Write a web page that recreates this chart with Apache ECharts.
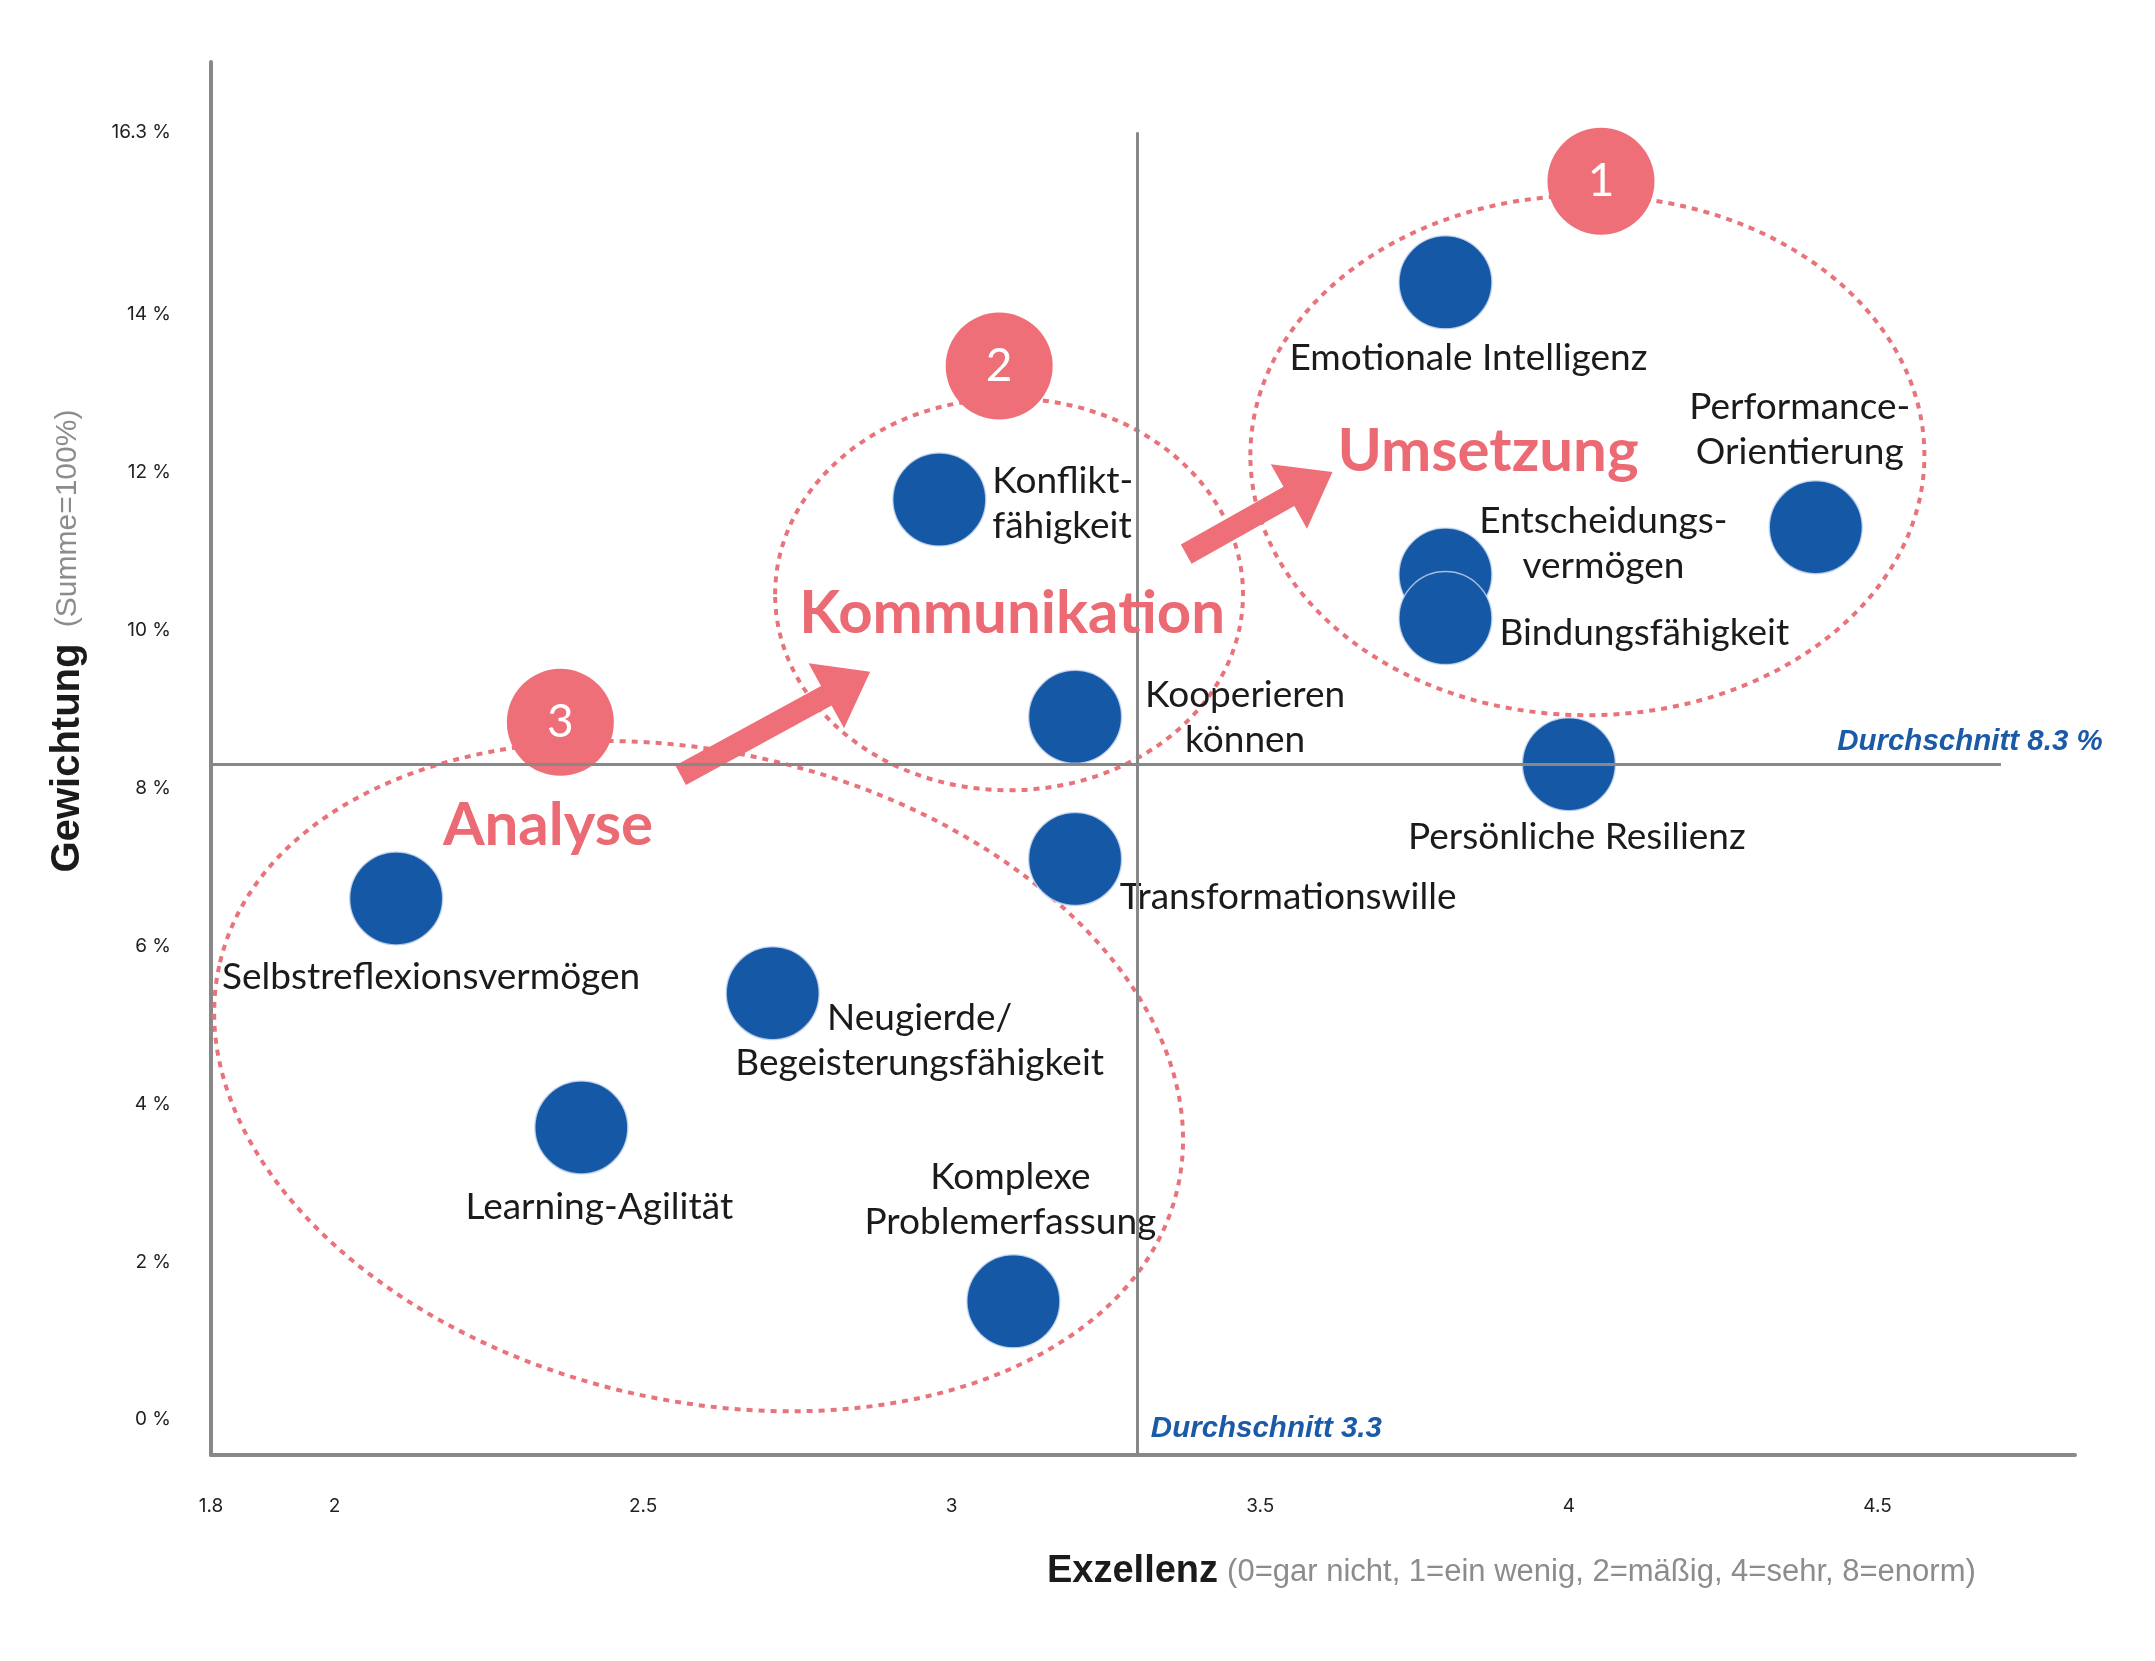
<!DOCTYPE html>
<html><head><meta charset="utf-8">
<script src="https://cdn.jsdelivr.net/npm/echarts@6/dist/echarts.min.js"></script>
<style>html,body{margin:0;padding:0;background:#fff}#chart{width:2155px;height:1661px}</style>
</head><body><div id="chart"></div>
<script>
// ---------- data ----------
const skills = ['Emotionale Intelligenz', 'Performance-\nOrientierung', 'Entscheidungs-\nvermögen', 'Bindungsfähigkeit',
  'Persönliche Resilienz', 'Konflikt-\nfähigkeit', 'Kooperieren\nkönnen', 'Transformationswille',
  'Selbstreflexionsvermögen', 'Neugierde/\nBegeisterungsfähigkeit', 'Learning-Agilität', 'Komplexe\nProblemerfassung'];
const exzellenz = [3.80, 4.40, 3.80, 3.80, 4.00, 2.98, 3.20, 3.20, 2.10, 2.71, 2.40, 3.10];
const gewichtung = [14.4, 11.3, 10.7, 10.15, 8.3, 11.65, 8.9, 7.1, 6.6, 5.4, 3.7, 1.5];
const xTicks = [1.8, 2, 2.5, 3, 3.5, 4, 4.5];
const yTicks = [0, 2, 4, 6, 8, 10, 12, 14, 16.3];
const avgExzellenz = 3.3;
const avgGewichtung = 8.3;
const clusterNames = ['Umsetzung', 'Kommunikation', 'Analyse'];
const clusterNumbers = ['1', '2', '3'];
// cluster annotations in data coordinates
const ringCenterX = [4.03, 3.093, 2.59];
const ringCenterY = [12.21, 10.45, 4.35];
const ringRadiusX = [0.546, 0.379, 0.797];
const ringRadiusY = [3.29, 2.48, 4.10];
const ringTilt = [0, 0, -13.4];
const badgeX = [4.052, 3.077, 2.366];
const badgeY = [15.68, 13.34, 8.83];
const clusterTitleX = [3.869, 3.098, 2.346];
const clusterTitleY = [12.26, 10.20, 7.52];
const arrowFromX = [2.561, 3.380];
const arrowFromY = [8.16, 10.96];
const arrowToX = [2.868, 3.617];
const arrowToY = [9.47, 12.0];

// ---------- styles ----------
const BLUE = '#1558a5';
const PINK = '#ee6f77';
const GREY = '#888888';
const TXT = '#1b1b1b';
const X_MIN = 1.8, X_MAX = 4.82, Y_MIN = -0.446, Y_MAX = 17.19;
// label placement (pixel offsets from circle centre) per skill
const labelOffset = [[23, 76], [-16, -98], [158, -31], [54, 15], [8, 73], [53, 4], [170, 1], [213, 38], [35, 79], [147, 47], [18, 80], [-3, -102]];
const labelAlign = ['center', 'center', 'center', 'left', 'center', 'left', 'center', 'center', 'center', 'center', 'center', 'center'];

const chart = echarts.init(document.getElementById('chart'));

const pointData = skills.map((n, i) => ({
  name: n,
  value: [exzellenz[i], gewichtung[i]],
  label: { offset: labelOffset[i], align: labelAlign[i] }
}));

const option = {
  animation: false,
  backgroundColor: '#ffffff',
  grid: { left: 211, right: 80, top: 62, bottom: 206 },
  xAxis: {
    type: 'value', min: X_MIN, max: X_MAX,
    axisLine: { show: true, onZero: false, lineStyle: { color: GREY, width: 4 } },
    axisTick: { show: false },
    splitLine: { show: false },
    axisLabel: { customValues: xTicks, margin: 42, fontSize: 19, color: '#222', fontFamily: 'Inter' }
  },
  yAxis: {
    type: 'value', min: Y_MIN, max: Y_MAX,
    axisLine: { show: true, onZero: false, lineStyle: { color: GREY, width: 4 } },
    axisTick: { show: false },
    splitLine: { show: false },
    axisLabel: { customValues: yTicks, margin: 40, fontSize: 19, color: '#222', fontFamily: 'Inter',
      formatter: v => v + ' %' }
  },
  graphic: [
    { type: 'text', x: 68, y: 641, rotation: Math.PI / 2,
      style: { text: '{b|Gewichtung}{g| (Summe=100%)}', align: 'center', verticalAlign: 'middle',
        rich: { b: { fontSize: 40, fontWeight: 'bold', fontFamily: 'Liberation Sans', fill: TXT },
                g: { fontSize: 30, fontFamily: 'Liberation Sans', fill: '#8c8c8c', padding: [0, 0, 0, 8] } } } },
    { type: 'text', x: 1047, y: 1572,
      style: { text: '{b|Exzellenz}{g|(0=gar nicht, 1=ein wenig, 2=mäßig, 4=sehr, 8=enorm)}', align: 'left', verticalAlign: 'middle',
        rich: { b: { fontSize: 38, fontWeight: 'bold', fontFamily: 'Liberation Sans', fill: TXT },
                g: { fontSize: 31, fontFamily: 'Liberation Sans', fill: '#8c8c8c', padding: [0, 0, 0, 9] } } } }
  ],
  series: [
    { // average lines
      type: 'scatter', data: [], z: 1, silent: true,
      markLine: {
        silent: true, symbol: 'none', animation: false,
        lineStyle: { color: GREY, width: 3, type: 'solid' },
        label: { show: false },
        data: [
          [{ coord: [avgExzellenz, Y_MIN] }, { coord: [avgExzellenz, 16.3] }],
          [{ coord: [X_MIN, avgGewichtung] }, { coord: [4.7, avgGewichtung] }]
        ]
      }
    },
    { // dashed cluster rings
      type: 'custom', z: 2, silent: true, clip: false,
      data: ringCenterX.map((x, i) => [x, ringCenterY[i], ringRadiusX[i], ringRadiusY[i], ringTilt[i]]),
      renderItem: (params, api) => {
        const c = api.coord([api.value(0), api.value(1)]);
        const rx = api.size([api.value(2), 0])[0];
        const ry = api.size([0, api.value(3)])[1];
        return { type: 'ellipse', x: c[0], y: c[1], rotation: api.value(4) * Math.PI / 180,
          shape: { cx: 0, cy: 0, rx: rx, ry: ry },
          style: { fill: 'none', stroke: '#e8737b', lineWidth: 4, lineDash: [6, 6] } };
      }
    },
    { // skills
      type: 'scatter', z: 3, silent: true,
      symbol: 'circle', symbolSize: 93,
      itemStyle: { color: BLUE, opacity: 1, borderColor: 'rgba(200,215,240,0.8)', borderWidth: 1.5 },
      label: { show: true, position: 'inside', formatter: p => p.name, color: TXT, fontSize: 37,
        fontFamily: 'Lato', lineHeight: 45 },
      data: pointData
    },
    { // arrows
      type: 'custom', z: 4, silent: true, clip: false,
      data: arrowFromX.map((x, i) => [x, arrowFromY[i], arrowToX[i], arrowToY[i]]),
      renderItem: (params, api) => {
        const a = api.coord([api.value(0), api.value(1)]);
        const b = api.coord([api.value(2), api.value(3)]);
        const dx = b[0] - a[0], dy = b[1] - a[1];
        const L = Math.hypot(dx, dy), ux = dx / L, uy = dy / L, px = -uy, py = ux;
        const sw = 11, hw = 37, hl = 50;
        const bx = b[0] - ux * hl, by = b[1] - uy * hl;
        const pts = [
          [a[0] + px * sw, a[1] + py * sw], [bx + px * sw, by + py * sw], [bx + px * hw, by + py * hw],
          [b[0], b[1]], [bx - px * hw, by - py * hw], [bx - px * sw, by - py * sw], [a[0] - px * sw, a[1] - py * sw]
        ];
        return { type: 'polygon', shape: { points: pts }, style: { fill: PINK } };
      }
    },
    { // numbered badges
      type: 'scatter', z: 4, silent: true,
      symbol: 'circle', symbolSize: 107,
      itemStyle: { color: PINK, opacity: 1 },
      label: { show: true, position: 'inside', formatter: p => p.name, color: '#ffffff', fontSize: 46,
        fontFamily: 'Lato' },
      data: badgeX.map((x, i) => ({ name: clusterNumbers[i], value: [x, badgeY[i]] }))
    },
    { // cluster titles + average labels
      type: 'custom', z: 5, silent: true, clip: false,
      data: clusterTitleX.map((x, i) => [x, clusterTitleY[i], i]),
      renderItem: (params, api) => {
        const c = api.coord([api.value(0), api.value(1)]);
        const i = api.value(2);
        const els = [{ type: 'text', x: c[0], y: c[1],
          style: { text: clusterNames[i], fill: '#ec6a73', fontSize: 60, fontWeight: 'bold', fontFamily: 'Lato',
            align: 'center', verticalAlign: 'middle' } }];
        if (i === 0) {
          const v = api.coord([avgExzellenz, Y_MIN]);
          const h = api.coord([4.7, avgGewichtung]);
          els.push({ type: 'text', x: v[0] + 14, y: v[1] - 26,
            style: { text: 'Durchschnitt ' + avgExzellenz, fill: '#1a5aa6', fontSize: 29.5, fontWeight: 'bold',
              fontStyle: 'italic', fontFamily: 'Liberation Sans', align: 'left', verticalAlign: 'middle' } });
          els.push({ type: 'text', x: h[0] - 31, y: h[1] - 22,
            style: { text: 'Durchschnitt ' + avgGewichtung + ' %', fill: '#1a5aa6', fontSize: 29.5, fontWeight: 'bold',
              fontStyle: 'italic', fontFamily: 'Liberation Sans', align: 'center', verticalAlign: 'middle' } });
        }
        return { type: 'group', children: els };
      }
    }
  ]
};
chart.setOption(option);
</script></body></html>
